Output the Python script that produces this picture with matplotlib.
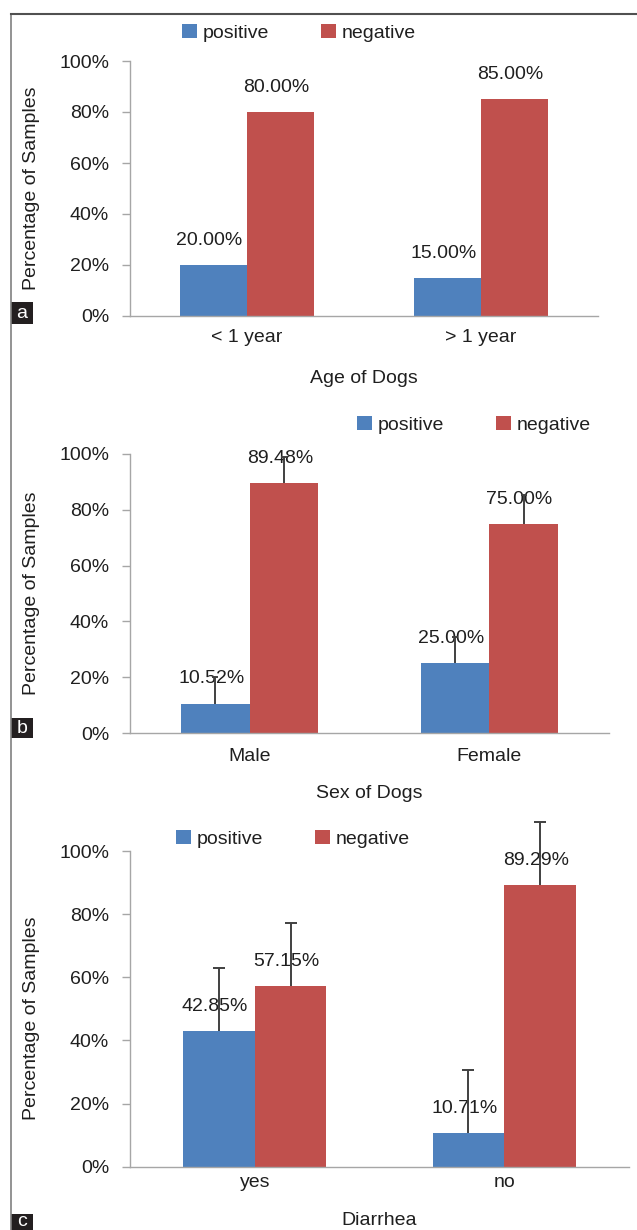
import numpy as np
import matplotlib.pyplot as plt
from matplotlib.patches import Rectangle
from matplotlib.lines import Line2D

plt.rcParams['font.family'] = ['Liberation Sans', 'DejaVu Sans']
plt.rcParams['font.size'] = 14

# Values (percentage of samples).
age_groups = ['< 1 year', '> 1 year']
age_positive = [20.00, 15.00]
age_negative = [80.00, 85.00]

sex_groups = ['Male', 'Female']
sex_positive = [10.52, 25.00]
sex_negative = [89.48, 75.00]
sex_positive_err = [9.7, 9.5]
sex_negative_err = [9.5, 10.3]

diarrhea_groups = ['yes', 'no']
diarrhea_positive = [42.85, 10.71]
diarrhea_negative = [57.15, 89.29]
diarrhea_positive_err = [20.0, 20.0]
diarrhea_negative_err = [20.0, 20.0]

y_ticks = [0, 20, 40, 60, 80, 100]

BLUE = '#4F81BD'
RED = '#C0504D'
TEXT = '#1F1F1F'
AXIS = '#A6A6A6'
W, H = 637, 1230

fig = plt.figure(figsize=(W / 100, H / 100), dpi=100)


# pixel helpers (pixels measured from the top-left corner)
def fx(x):
    return x / W


def fy(y):
    return 1 - y / H


def rect(left, top, right, bottom):
    return [fx(left), fy(bottom), (right - left) / W, (bottom - top) / H]


def panel(box, groups, pos, neg, xlabel, xlabel_y, ylabel_y, tick_pad, legend_xy,
          pos_err=None, neg_err=None, capsize=0):
    ax = fig.add_axes(rect(*box))
    x = np.arange(len(groups))
    w = 0.287
    ax.bar(x - w / 2, pos, w, color=BLUE, label='positive', zorder=2)
    ax.bar(x + w / 2, neg, w, color=RED, label='negative', zorder=2)

    # error bars only go up (plus direction), like the excel original
    if pos_err is not None:
        for xs, vals, err in [(x - w / 2, pos, pos_err), (x + w / 2, neg, neg_err)]:
            eb = ax.errorbar(xs, vals, yerr=[np.zeros(len(err)), err], fmt='none',
                             ecolor='#404040', elinewidth=1.4, capsize=capsize,
                             capthick=1.4, zorder=5)
            caps = list(eb.lines[1])
            caps[0].set_visible(False)  # no cap at the bar top
            for art in caps + list(eb.lines[2]):
                art.set_clip_on(False)

    # value labels above the bars
    for xs, vals in [(x - w / 2, pos), (x + w / 2, neg)]:
        for xi, v in zip(xs, vals):
            ax.annotate(f'{v:.2f}%', (xi, v), xytext=(-3, 17.8), textcoords='offset points',
                        ha='center', va='center', color=TEXT, zorder=4)

    ax.set_xlim(-0.5, 1.5)
    ax.set_ylim(0, 100)
    ax.set_xticks(x)
    ax.set_xticklabels(groups)
    ax.set_yticks(y_ticks)
    ax.set_yticklabels([f'{t}%' for t in y_ticks])
    ax.tick_params(axis='x', length=0, pad=tick_pad, colors=TEXT)
    ax.tick_params(axis='y', length=6, pad=9, width=1, color=AXIS, labelcolor=TEXT)
    for s in ['top', 'right']:
        ax.spines[s].set_visible(False)
    for s in ['left', 'bottom']:
        ax.spines[s].set_color(AXIS)
        ax.spines[s].set_linewidth(1)

    ax.set_xlabel(xlabel, color=TEXT)
    ax.xaxis.set_label_coords(fx((box[0] + box[2]) / 2), fy(xlabel_y), transform=fig.transFigure)
    ax.xaxis.label.set_va('top')
    ax.set_ylabel('Percentage of Samples', color=TEXT)
    ax.yaxis.set_label_coords(fx(32), fy(ylabel_y), transform=fig.transFigure)
    ax.yaxis.label.set_va('center')

    ax.legend(loc='center', bbox_to_anchor=(fx(legend_xy[0]), fy(legend_xy[1])),
              bbox_transform=fig.transFigure, ncol=2, frameon=False,
              handlelength=0.77, handleheight=0.72, handletextpad=0.3,
              columnspacing=2.7, borderpad=0, borderaxespad=0, labelcolor=TEXT)
    return ax


panel((130, 61, 598, 316), age_groups, age_positive, age_negative,
      'Age of Dogs', 370, 188, 9.4, (299, 33))
panel((130, 454, 609, 733), sex_groups, sex_positive, sex_negative,
      'Sex of Dogs', 785, 593, 10.8, (474, 425),
      sex_positive_err, sex_negative_err, capsize=2.3)
panel((130, 851, 629, 1166.7), diarrhea_groups, diarrhea_positive, diarrhea_negative,
      'Diarrhea', 1211.7, 1018, 5.5, (293, 839),
      diarrhea_positive_err, diarrhea_negative_err, capsize=4.3)

# outer frame of the composite figure
fig.add_artist(Line2D([fx(11), fx(11)], [fy(14), 0], color='#808080', lw=1.2))
fig.add_artist(Line2D([fx(11), 1], [fy(14), fy(14)], color='#505050', lw=1.5))

# panel letters in black boxes
for letter, top, bottom, ty in [('a', 301.7, 324, 313.5), ('b', 718, 737.5, 728.5),
                                ('c', 1214, 1238, 1222)]:
    fig.add_artist(Rectangle((fx(11), fy(bottom)), fx(33) - fx(11), fy(top) - fy(bottom),
                             transform=fig.transFigure, color='#231F20', lw=0))
    fig.text(fx(22), fy(ty), letter, color='white', ha='center', va='center', fontsize=14)

fig.savefig('out.png', dpi=100)
